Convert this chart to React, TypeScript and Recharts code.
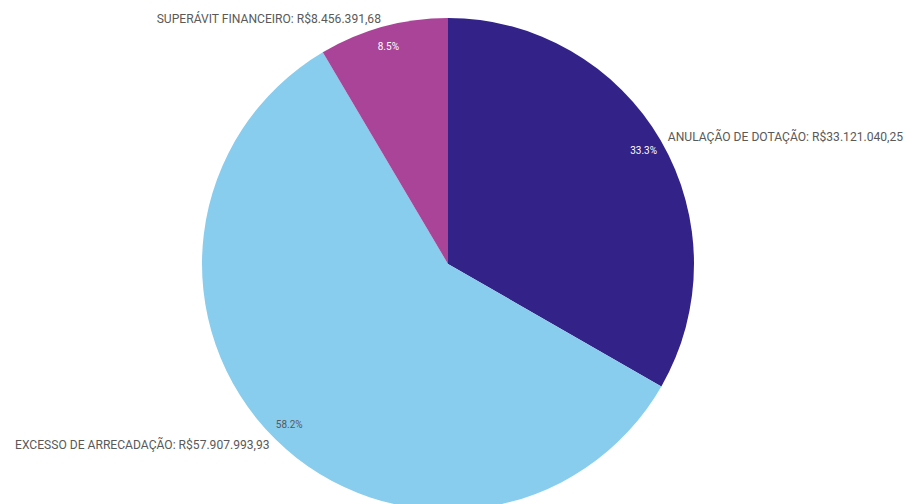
import React from 'react';
import { PieChart, Pie, Cell } from 'recharts';

const categories = ['ANULAÇÃO DE DOTAÇÃO', 'EXCESSO DE ARRECADAÇÃO', 'SUPERÁVIT FINANCEIRO'];
const amounts = [33121040.25, 57907993.93, 8456391.68];
const COLORS = ['#332288', '#88CCEE', '#AA4499'];
const PCT_COLORS = ['#ffffff', '#595959', '#ffffff'];

const data = categories.map((name, i) => ({ name, value: amounts[i] }));

// pt-BR money format without relying on ICU data
const fmtMoney = (v: number) => {
  const [int, dec] = v.toFixed(2).split('.');
  return 'R$' + int.replace(/\B(?=(\d{3})+(?!\d))/g, '.') + ',' + dec;
};

const RAD = Math.PI / 180;

const renderLabel = (props: any) => {
  const { cx, cy, midAngle, outerRadius, percent, name, value, index } = props;
  const cos = Math.cos(-midAngle * RAD);
  const sin = Math.sin(-midAngle * RAD);
  const ox = cx + (outerRadius + 8) * cos;
  const oy = cy + (outerRadius + 8) * sin;
  const ix = cx + (outerRadius - 20) * cos;
  const iy = cy + (outerRadius - 20) * sin;
  return (
    <g>
      <text
        x={ox}
        y={oy}
        fill="#595959"
        fontSize={12.1}
        fontFamily="Roboto"
        textAnchor={cos >= 0 ? 'start' : 'end'}
        dominantBaseline="central"
      >
        {`${name}: ${fmtMoney(value)}`}
      </text>
      <text
        x={ix}
        y={iy}
        fill={PCT_COLORS[index]}
        fontSize={10}
        fontFamily="Roboto"
        textAnchor="middle"
        dominantBaseline="central"
      >
        {`${(percent * 100).toFixed(1)}%`}
      </text>
    </g>
  );
};

export default function App() {
  return (
    <div style={{ position: 'absolute', left: 0, top: 0, width: 907, height: 504, background: '#fff' }}>
      <PieChart width={907} height={504} margin={{ top: 0, right: 0, bottom: 0, left: 0 }}>
        <Pie
          data={data}
          dataKey="value"
          nameKey="name"
          cx={448}
          cy={264}
          outerRadius={246}
          startAngle={90}
          endAngle={-270}
          stroke="none"
          labelLine={false}
          label={renderLabel}
          isAnimationActive={false}
        >
          {data.map((d, i) => (
            <Cell key={d.name} fill={COLORS[i]} />
          ))}
        </Pie>
      </PieChart>
    </div>
  );
}
